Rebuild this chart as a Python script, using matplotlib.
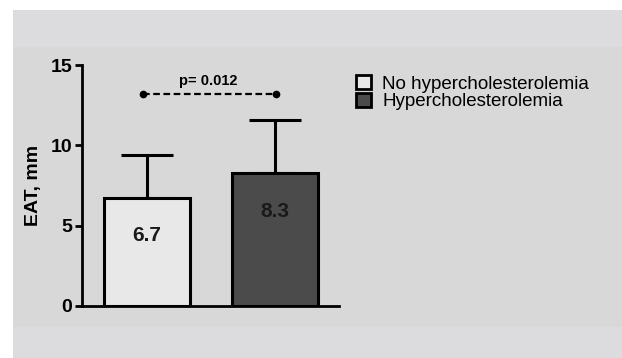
import matplotlib.pyplot as plt
from matplotlib.patches import Rectangle

plt.rcParams['font.family'] = ['Liberation Sans', 'DejaVu Sans']

# данные
groups = ['No hypercholesterolemia', 'Hypercholesterolemia']
means = [6.7, 8.3]
sd = [2.7, 3.3]
bar_colors = ['#e8e8e8', '#4b4b4b']
p_text = 'p= 0.012'
p_level = 13.2
yticks = [0, 5, 10, 15]

W, H = 622, 358
fig = plt.figure(figsize=(W / 100, H / 100), dpi=100, facecolor='white')

# серый фон с полосами
fig.patches.append(Rectangle((13 / W, 0), 1, 1 - 10 / H, transform=fig.transFigure,
                             facecolor='#dcdcde', edgecolor='none', zorder=-2))
fig.patches.append(Rectangle((13 / W, 31 / H), 1, (327 - 47) / H, transform=fig.transFigure,
                             facecolor='#d8d8d8', edgecolor='none', zorder=-1))

ax = fig.add_axes([82 / W, 52 / H, (339 - 82) / W, 241 / H])
ax.set_facecolor('none')

x = [0, 1]
ax.bar(x, means, width=0.672, color=bar_colors, edgecolor='black', linewidth=2.2, zorder=2)
ax.errorbar(x, means, yerr=[[0, 0], sd], fmt='none', ecolor='black', elinewidth=2.2,
            capsize=18.5, capthick=2.2, zorder=1)

for xi, m, y_lab in zip(x, means, [4.4, 5.9]):
    ax.text(xi, y_lab, f'{m}', ha='center', va='center', fontsize=15,
            fontweight='bold', color='#1a1a1a', zorder=3)

# линия значимости
ax.plot([-0.03, 1.01], [p_level, p_level], color='black', linestyle=(0, (3, 1.6)),
        linewidth=1.6, marker='o', markersize=4.5, zorder=3)
ax.text(0.48, p_level + 0.35, p_text, ha='center', va='bottom', fontsize=10.5,
        fontweight='bold')

ax.set_xlim(-0.508, 1.5)
ax.set_ylim(0, 15)
ax.set_yticks(yticks)
ax.set_yticklabels([str(t) for t in yticks], fontsize=14, fontweight='bold')
ax.set_xticks([])
ax.tick_params(axis='y', length=5, width=2, pad=2)
for s in ['top', 'right']:
    ax.spines[s].set_visible(False)
for s in ['left', 'bottom']:
    ax.spines[s].set_linewidth(2)
ax.set_ylabel('EAT, mm', fontsize=14, fontweight='bold', labelpad=6)

# легенда
handles = [Rectangle((0, 0), 1, 1, facecolor=c, edgecolor='black', linewidth=2)
           for c in bar_colors]
fig.legend(handles, groups, loc='upper left', bbox_to_anchor=(356 / W, 1 - 75 / H),
           frameon=False, fontsize=13.5, handlelength=0.8, handleheight=0.8,
           handletextpad=0.6, labelspacing=0.0, borderaxespad=0, borderpad=0)

fig.savefig('out.png', dpi=100, facecolor=fig.get_facecolor())
